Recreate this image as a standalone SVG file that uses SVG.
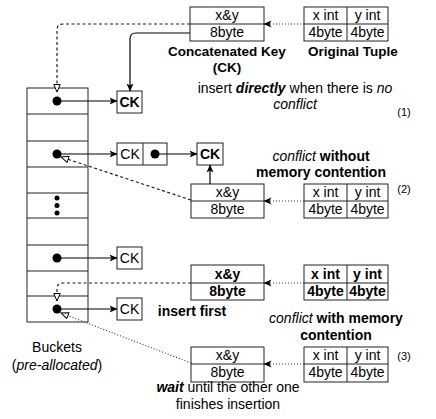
<svg xmlns="http://www.w3.org/2000/svg" width="436" height="419" viewBox="0 0 436 419">
<defs>
<marker id="fa" viewBox="0 0 8 8" refX="7.5" refY="4" markerWidth="8" markerHeight="8" markerUnits="userSpaceOnUse" orient="auto">
<path d="M0,0.5 L8,4 L0,7.5 L2,4 Z" fill="#000"/>
</marker>
<marker id="oa" viewBox="0 0 9 8" refX="8" refY="4" markerWidth="9" markerHeight="8" markerUnits="userSpaceOnUse" orient="auto">
<path d="M0.5,0.8 L8,4 L0.5,7.2 Z" fill="#fff" stroke="#000" stroke-width="1"/>
</marker>
</defs>
<style>
rect,.ln{fill:#fff;stroke:#222;stroke-width:1}
.ln{fill:none}
text{font-family:"Liberation Sans",Arial,sans-serif;font-size:14px;fill:#000;text-anchor:middle}
.b{font-weight:bold}
.i{font-style:italic}
.lb{font-size:13.5px}
.sm{font-size:11px}
.dot{fill:#000}
.sol{fill:none;stroke:#000;stroke-width:1.2}
.dash{fill:none;stroke:#222;stroke-width:1.2;stroke-dasharray:3,2.5}
.dott{fill:none;stroke:#333;stroke-width:1.1;stroke-dasharray:1,2}
</style>
<g id="buckets">
<rect x="27" y="88" width="61" height="234"/>
<path class="ln" d="M27,114H88M27,141H88M27,167H88M27,193H88M27,218H88M27,245H88M27,271H88M27,296H88"/>
<circle class="dot" cx="57" cy="101" r="4.5"/>
<circle class="dot" cx="57" cy="154" r="4.5"/>
<circle class="dot" cx="57" cy="198" r="2.5"/>
<circle class="dot" cx="57" cy="205.5" r="2.5"/>
<circle class="dot" cx="57" cy="213" r="2.5"/>
<circle class="dot" cx="57" cy="258" r="4.5"/>
<circle class="dot" cx="57" cy="309" r="4.5"/>
<text x="57" y="352">Buckets</text>
<text x="57" y="370">(<tspan class="i">pre-allocated</tspan>)</text>
</g>
<g id="ck1">
<rect x="117" y="91" width="25" height="22"/>
<text class="b" x="129.5" y="107">CK</text>
</g>
<g id="ck2">
<rect x="117" y="143" width="50" height="22"/>
<path class="ln" d="M143,143V165"/>
<text x="130" y="159">CK</text>
<circle class="dot" cx="155" cy="154" r="4.5"/>
</g>
<g id="ck3">
<rect x="197" y="143" width="26" height="22"/>
<text class="b" x="210" y="159">CK</text>
</g>
<g id="ck4">
<rect x="117" y="247" width="25" height="22"/>
<text x="129.5" y="263">CK</text>
</g>
<g id="ck5">
<rect x="117" y="298" width="25" height="22"/>
<text x="129.5" y="314">CK</text>
</g>
<g id="key1">
<rect x="190" y="7" width="74" height="34"/>
<path class="ln" d="M190,24H264"/>
<text x="227" y="20">x&amp;y</text>
<text x="227" y="37">8byte</text>
</g>
<g id="tuple1">
<rect x="304" y="7" width="84" height="34"/>
<path class="ln" d="M304,24H388M347,7V41"/>
<text x="325.5" y="20">x int</text>
<text x="367.5" y="20">y int</text>
<text x="325.5" y="37">4byte</text>
<text x="367.5" y="37">4byte</text>
</g>
<g id="key2">
<rect x="191" y="184" width="73" height="34"/>
<path class="ln" d="M191,201H264"/>
<text x="227.5" y="197">x&amp;y</text>
<text x="227.5" y="214">8byte</text>
</g>
<g id="tuple2">
<rect x="304" y="184" width="84" height="34"/>
<path class="ln" d="M304,201H388M347,184V218"/>
<text x="325.5" y="197">x int</text>
<text x="367.5" y="197">y int</text>
<text x="325.5" y="214">4byte</text>
<text x="367.5" y="214">4byte</text>
</g>
<g id="key3">
<rect x="191" y="265" width="73" height="35"/>
<path class="ln" d="M191,283H264"/>
<text class="b" x="227.5" y="279">x&amp;y</text>
<text class="b" x="227.5" y="296">8byte</text>
</g>
<g id="tuple3">
<rect x="304" y="265" width="84" height="35"/>
<path class="ln" d="M304,283H388M347,265V300"/>
<text class="b" x="325.5" y="279">x int</text>
<text class="b" x="367.5" y="279">y int</text>
<text class="b" x="325.5" y="296">4byte</text>
<text class="b" x="367.5" y="296">4byte</text>
</g>
<g id="key4">
<rect x="191" y="347" width="73" height="35"/>
<path class="ln" d="M191,364H264"/>
<text x="227.5" y="360">x&amp;y</text>
<text x="227.5" y="377">8byte</text>
</g>
<g id="tuple4">
<rect x="304" y="347" width="84" height="35"/>
<path class="ln" d="M304,364H388M347,347V382"/>
<text x="325.5" y="360">x int</text>
<text x="367.5" y="360">y int</text>
<text x="325.5" y="377">4byte</text>
<text x="367.5" y="377">4byte</text>
</g>
<g id="connectors">
<path class="sol" marker-end="url(#fa)" d="M57,101H117"/>
<path class="sol" marker-end="url(#fa)" d="M57,154H117"/>
<path class="sol" marker-end="url(#fa)" d="M155,154H197"/>
<path class="sol" marker-end="url(#fa)" d="M57,258H117"/>
<path class="sol" marker-end="url(#fa)" d="M57,309H117"/>
<path class="sol" marker-end="url(#fa)" d="M190,33H136Q130,33 130,39V91"/>
<path class="sol" marker-end="url(#fa)" d="M210,184V165"/>
<path class="dash" marker-end="url(#oa)" d="M190,24H63Q57,24 57,30V92"/>
<path class="dash" marker-end="url(#oa)" d="M191,200L61,157"/>
<path class="dash" marker-end="url(#oa)" d="M191,283H63Q57,283 57,289V301"/>
<path class="dott" marker-end="url(#oa)" d="M191,363L61,313"/>
<path class="dott" marker-end="url(#fa)" d="M304,24H264"/>
<path class="dott" marker-end="url(#fa)" d="M304,201H264"/>
<path class="dott" marker-end="url(#fa)" d="M304,283H264"/>
<path class="dott" marker-end="url(#fa)" d="M304,364H264"/>
</g>
<g id="labels">
<text class="b lb" x="227" y="56">Concatenated Key</text>
<text class="b lb" x="227" y="72">(CK)</text>
<text class="b lb" x="353" y="56">Original Tuple</text>
<text x="295" y="93">insert <tspan class="b i">directly</tspan> when there is <tspan class="i">no</tspan></text>
<text class="i" x="295" y="109">conflict</text>
<text class="sm" x="404" y="116">(1)</text>
<text x="321" y="161"><tspan class="i">conflict</tspan> <tspan class="b">without</tspan></text>
<text class="b" x="321" y="177">memory contention</text>
<text class="sm" x="404" y="193">(2)</text>
<text class="b" x="192" y="316">insert first</text>
<text x="336" y="323"><tspan class="i">conflict</tspan> <tspan class="b">with memory</tspan></text>
<text class="b" x="336" y="340">contention</text>
<text class="sm" x="404" y="360">(3)</text>
<text x="228" y="392"><tspan class="b i">wait</tspan> until the other one</text>
<text x="228" y="409">finishes insertion</text>
</g>
</svg>
